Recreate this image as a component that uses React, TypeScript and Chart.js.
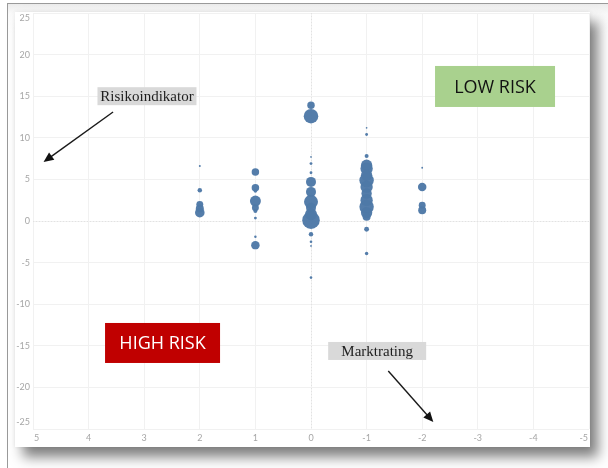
import React, { useEffect, useRef } from "react";
import { Chart, registerables } from "chart.js";

Chart.register(...registerables);

// ---- data ----
const marketRating: number[] = [
  2, 2, 2, 2, 2,
  1, 1, 1, 1, 1, 1, 1, 1, 1,
  0, 0, 0, 0, 0, 0, 0, 0, 0, 0, 0, 0, 0, 0, 0,
  -1, -1, -1, -1, -1, -1, -1, -1, -1, -1, -1, -1, -1, -1, -1,
  -2, -2, -2, -2,
];
const riskIndicator: number[] = [
  6.6, 3.7, 2.0, 1.5, 1.0,
  5.9, 4.0, 3.6, 2.4, 1.6, 1.2, 0.35, -1.9, -2.9,
  13.9, 12.6, 7.7, 6.9, 5.8, 4.7, 3.5, 2.3, 1.6, 0.8, 0.1, -1.6, -2.5, -3.0, -6.8,
  11.2, 10.4, 7.8, 6.7, 6.3, 5.5, 4.9, 4.1, 3.3, 2.5, 1.7, 1.0, 0.5, -1.0, -3.9,
  6.4, 4.1, 1.9, 1.3,
];
const weights: number[] = [
  1, 5, 12, 16, 23,
  14, 14, 3, 30, 12, 4, 2, 1.5, 18,
  14, 53, 0.7, 2, 2, 25, 25, 49, 25, 36, 77, 5, 1.7, 0.8, 1.7,
  0.7, 2, 4, 32, 38, 32, 52, 38, 27, 38, 52, 32, 16, 6, 3,
  0.8, 18, 12, 16,
];
const xRange: number[] = [-5, 5];
const yRange: number[] = [-25, 25];
const xStep = 1;
const yStep = 5;

// ---- annotations (placed through the chart's scales) ----
type Note = {
  text: string; x: number; y: number; w: number; h: number;
  fill: string; color: string; font: string;
};
const notes: Note[] = [
  { text: "Risikoindikator", x: 2.95, y: 15.0, w: 99, h: 18, fill: "#d9d9d9", color: "#1e1e1e", font: "15px 'Liberation Serif', 'DejaVu Serif', serif" },
  { text: "LOW RISK", x: -3.31, y: 16.17, w: 120, h: 41, fill: "#a9d18e", color: "#111", font: "18px 'Open Sans', 'Liberation Sans', sans-serif" },
  { text: "HIGH RISK", x: 2.67, y: -14.66, w: 115, h: 40, fill: "#c00000", color: "#ffffff", font: "18px 'Open Sans', 'Liberation Sans', sans-serif" },
  { text: "Marktrating", x: -1.19, y: -15.62, w: 98, h: 18, fill: "#d9d9d9", color: "#1e1e1e", font: "15px 'Liberation Serif', 'DejaVu Serif', serif" },
];
const arrows: number[][] = [
  [3.56, 13.1, 4.81, 7.09],
  [-1.39, -18.03, -2.2, -24.16],
];

const overlayPlugin = {
  id: "overlay",
  beforeDatasetsDraw(chart: any) {
    const { ctx, chartArea, scales } = chart;
    const xs = scales.x, ys = scales.y;
    ctx.save();
    ctx.strokeStyle = "#e2e2e2";
    ctx.lineWidth = 1;
    ctx.setLineDash([1, 2]);
    const x0 = Math.round(xs.getPixelForValue(0)) + 0.5;
    const y0 = Math.round(ys.getPixelForValue(0)) + 0.5;
    ctx.beginPath();
    ctx.moveTo(x0, chartArea.top);
    ctx.lineTo(x0, chartArea.bottom);
    ctx.moveTo(chartArea.left, y0);
    ctx.lineTo(chartArea.right, y0);
    ctx.stroke();
    ctx.restore();
  },
  afterDraw(chart: any) {
    const { ctx, chartArea, scales } = chart;
    const xs = scales.x, ys = scales.y;
    ctx.save();
    // tick labels
    ctx.fillStyle = "#a6a6a6";
    ctx.font = "9px Lato, 'DejaVu Sans', sans-serif";
    ctx.textBaseline = "middle";
    ctx.textAlign = "right";
    ys.ticks.forEach((t: any) => {
      let py = ys.getPixelForValue(t.value);
      py = Math.max(chartArea.top + 5, Math.min(chartArea.bottom - 7, py));
      ctx.fillText(String(t.value), chartArea.left - 3, py);
    });
    xs.ticks.forEach((t: any) => {
      const px = xs.getPixelForValue(t.value);
      const v = t.value;
      ctx.textAlign = "center";
      let x = px;
      if (v === xRange[1]) { ctx.textAlign = "left"; x = px + 1; }
      if (v === xRange[0]) { ctx.textAlign = "right"; x = px - 1; }
      ctx.fillText(String(v), x, chartArea.bottom + 9);
    });

    // boxes
    notes.forEach((nt) => {
      const cx = xs.getPixelForValue(nt.x);
      const cy = ys.getPixelForValue(nt.y);
      ctx.fillStyle = nt.fill;
      ctx.fillRect(cx - nt.w / 2, cy - nt.h / 2, nt.w, nt.h);
      ctx.fillStyle = nt.color;
      ctx.font = nt.font;
      ctx.textAlign = "center";
      ctx.textBaseline = "middle";
      ctx.fillText(nt.text, cx, cy + 1);
    });

    // arrows
    arrows.forEach(([ax, ay, bx, by]) => {
      const x1 = xs.getPixelForValue(ax), y1 = ys.getPixelForValue(ay);
      const x2 = xs.getPixelForValue(bx), y2 = ys.getPixelForValue(by);
      const ang = Math.atan2(y2 - y1, x2 - x1);
      const head = 10, half = 4.5;
      ctx.strokeStyle = "#1a1a1a";
      ctx.lineWidth = 1.4;
      ctx.beginPath();
      ctx.moveTo(x1, y1);
      ctx.lineTo(x2 - Math.cos(ang) * head * 0.8, y2 - Math.sin(ang) * head * 0.8);
      ctx.stroke();
      ctx.fillStyle = "#111";
      ctx.beginPath();
      ctx.moveTo(x2, y2);
      ctx.lineTo(x2 - Math.cos(ang) * head + Math.sin(ang) * half, y2 - Math.sin(ang) * head - Math.cos(ang) * half);
      ctx.lineTo(x2 - Math.cos(ang) * head - Math.sin(ang) * half, y2 - Math.sin(ang) * head + Math.cos(ang) * half);
      ctx.closePath();
      ctx.fill();
    });
    ctx.restore();
  },
};

export default function App() {
  const canvasRef = useRef<HTMLCanvasElement | null>(null);

  useEffect(() => {
    if (!canvasRef.current) return;
    const points = marketRating.map((x, i) => ({
      x,
      y: riskIndicator[i],
      r: Math.sqrt(weights[i]),
    }));
    const chart = new Chart(canvasRef.current, {
      type: "bubble",
      data: {
        datasets: [
          {
            data: points,
            backgroundColor: "rgba(78,121,167,0.97)",
            borderWidth: 0,
            hoverBorderWidth: 0,
          },
        ],
      },
      options: {
        animation: false,
        responsive: true,
        maintainAspectRatio: false,
        layout: { autoPadding: false, padding: { left: 18, top: 1, right: 1, bottom: 18 } },
        plugins: { legend: { display: false }, tooltip: { enabled: false } },
        events: [],
        scales: {
          x: {
            type: "linear",
            reverse: true,
            min: xRange[0],
            max: xRange[1],
            ticks: { display: false, stepSize: xStep },
            grid: { color: "#f1f1f1", drawTicks: false, lineWidth: 1 },
            border: { display: false },
          },
          y: {
            type: "linear",
            min: yRange[0],
            max: yRange[1],
            ticks: { display: false, stepSize: yStep },
            grid: { color: "#f1f1f1", drawTicks: false, lineWidth: 1 },
            border: { display: false },
          },
        },
      },
      plugins: [overlayPlugin],
    });
    return () => chart.destroy();
  }, []);

  return (
    <div style={{ position: "fixed", left: 0, top: 0, width: 608, height: 468, overflow: "hidden", background: "#ffffff" }}>
      <div
        style={{
          position: "absolute", left: 7, top: 3, width: 640, height: 500,
          borderLeft: "1px solid #9a9a9a", borderTop: "1px solid #9a9a9a",
          background: "linear-gradient(#ececec, #fafafa 10px, #ffffff 30px)",
        }}
      />
      <div
        style={{
          position: "absolute", left: 15, top: 12, width: 575, height: 435,
          background: "#ffffff",
          boxShadow: "8px 10px 12px rgba(0,0,0,0.5), 0 0 4px rgba(0,0,0,0.08)",
        }}
      >
        <canvas ref={canvasRef} />
      </div>
    </div>
  );
}
